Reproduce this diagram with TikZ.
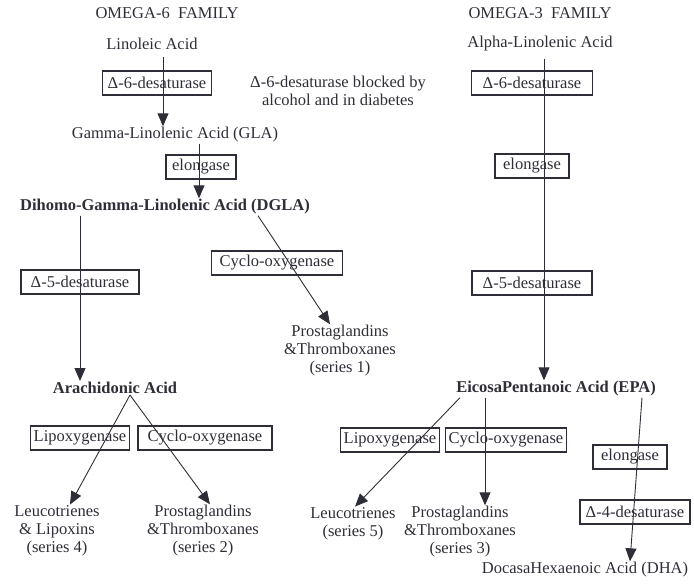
\documentclass[tikz,border=0pt]{standalone}
\usepackage{fontspec}
\setmainfont{Liberation Serif}
\usetikzlibrary{arrows.meta}
\definecolor{ink}{HTML}{2E2E38}
\begin{document}
\begin{tikzpicture}[x=1pt,y=-1pt,
    every node/.style={text=ink,font=\fontsize{16.5}{18}\selectfont,inner sep=1pt,align=center},
    acid/.style={font=\fontsize{16.5}{18}\selectfont\bfseries},
    enzyme/.style={draw=ink,line width=1.2pt,minimum height=24pt,inner xsep=3pt},
    flow/.style={draw=ink,line width=0.9pt,-{Triangle[length=13pt,width=11pt]}}]
  \useasboundingbox (0,0) rectangle (694,584);
  % omega-6 side
  \node (om6) at (167,13) {OMEGA-6\ \ FAMILY};
  \node (lin) at (152,44) {Linoleic Acid};
  \node (gla) at (175,135) {Gamma-Linolenic Acid (GLA)};
  \node[acid] (dgla) at (165,207) {Dihomo-Gamma-Linolenic Acid (DGLA)};
  \node[acid] (ara) at (115,388) {Arachidonic Acid};
  \node (pg1) at (340,351) {Prostaglandins\\\&Thromboxanes\\(series 1)};
  \node (lt4) at (57,531) {Leucotrienes\\\& Lipoxins\\(series 4)};
  \node (pg2) at (203,531) {Prostaglandins\\\&Thromboxanes\\(series 2)};
  \node (note) at (338,91) {Δ-6-desaturase blocked by\\alcohol and in diabetes};
  % omega-3 side
  \node (om3) at (540,13) {OMEGA-3\ \ FAMILY};
  \node (ala) at (540,44) {Alpha-Linolenic Acid};
  \node[acid] (epa) at (556,389) {EicosaPentanoic Acid (EPA)};
  \node (lt5) at (353,524) {Leucotrienes\\(series 5)};
  \node (pg3) at (460,532) {Prostaglandins\\\&Thromboxanes\\(series 3)};
  \node (dha) at (585,570) {DocasaHexaenoic Acid (DHA)};
  % enzymes
  \node[enzyme,minimum width=109pt] (d6l) at (157,83) {Δ-6-desaturase};
  \node[enzyme,minimum width=70pt] (elol) at (201,167) {elongase};
  \node[enzyme,minimum width=118pt] (d5l) at (80,282) {Δ-5-desaturase};
  \node[enzyme,minimum width=131pt] (cox1) at (277,263) {Cyclo-oxygenase};
  \node[enzyme,minimum width=96pt] (lox4) at (80,438) {Lipoxygenase};
  \node[enzyme,minimum width=134pt] (cox2) at (205,438) {Cyclo-oxygenase};
  \node[enzyme,minimum width=121pt] (d6r) at (532,83) {Δ-6-desaturase};
  \node[enzyme,minimum width=74pt] (elor) at (532,166) {elongase};
  \node[enzyme,minimum width=120pt] (d5r) at (532,283) {Δ-5-desaturase};
  \node[enzyme,minimum width=96pt] (lox5) at (390,440) {Lipoxygenase};
  \node[enzyme,minimum width=118pt] (cox3) at (506,440) {Cyclo-oxygenase};
  \node[enzyme,minimum width=74pt] (elod) at (630,457) {elongase};
  \node[enzyme,minimum width=110pt] (d4) at (635,512) {Δ-4-desaturase};
  % conversions
  \draw[flow] ([xshift=11pt,yshift=-6pt]lin.south) -- ([xshift=-12pt]gla.north);
  \draw[flow] ([xshift=24pt]gla.south) -- ([xshift=34pt]dgla.north);
  \draw[flow] ([xshift=-85pt]dgla.south) -- ([xshift=-35pt]ara.north);
  \draw[flow] ([xshift=93pt]dgla.south) -- ([xshift=-10pt]pg1.north);
  \draw[flow] ([xshift=15pt]ara.south) -- ([xshift=13pt]lt4.north);
  \draw[flow] ([xshift=15pt]ara.south) -- ([xshift=7pt]pg2.north);
  \draw[flow] ([xshift=4pt,yshift=-6pt]ala.south) -- ([xshift=-12pt]epa.north);
  \draw[flow] ([xshift=-96pt]epa.south) -- ([xshift=2pt]lt5.north);
  \draw[flow] ([xshift=-71pt]epa.south) -- ([xshift=25pt]pg3.north);
  \draw[flow] ([xshift=86pt]epa.south) -- ([xshift=45pt]dha.north);
\end{tikzpicture}
\end{document}
